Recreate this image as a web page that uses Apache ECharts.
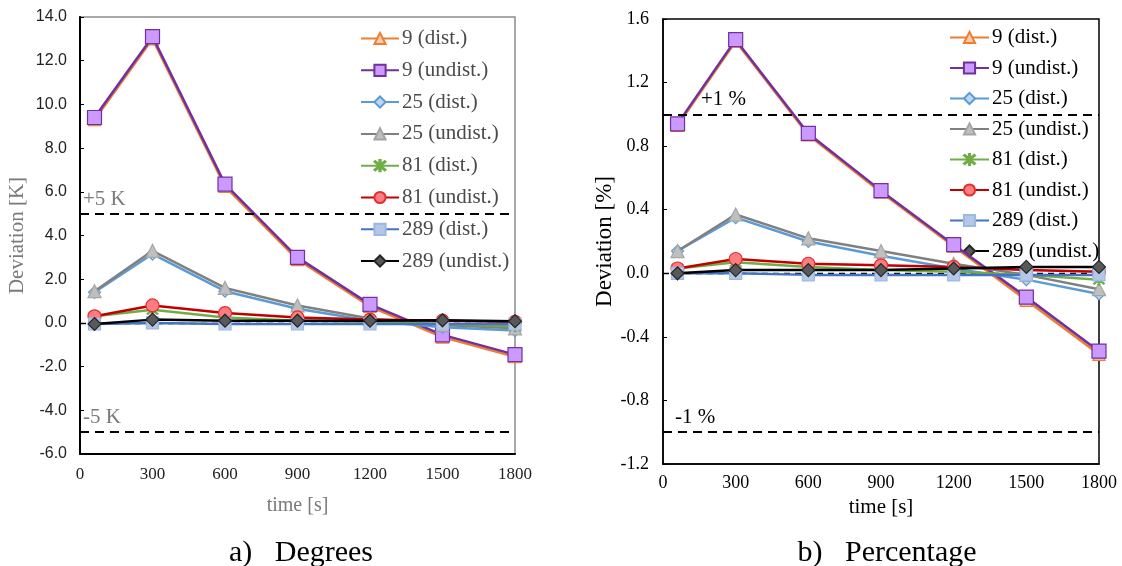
<!DOCTYPE html>
<html>
<head>
<meta charset="utf-8">
<script src="https://cdn.jsdelivr.net/npm/echarts@6/dist/echarts.min.js"></script>
<style>
  html, body { margin: 0; padding: 0; background: #fff; }
  #chart { width: 1122px; height: 566px; }
</style>
</head>
<body>
<div id="chart"></div>
<script>
// Sampling times [s]
const times = [60, 300, 600, 900, 1200, 1500, 1800];

// Series names (grid size, distorted / undistorted)
const seriesNames = ['9 (dist.)', '9 (undist.)', '25 (dist.)', '25 (undist.)',
                     '81 (dist.)', '81 (undist.)', '289 (dist.)', '289 (undist.)'];

// Deviation in Kelvin
const dev9DistK     = [9.3, 13.0, 6.25, 2.9, 0.75, -0.65, -1.55];
const dev9UndistK   = [9.4, 13.1, 6.35, 3.0, 0.85, -0.55, -1.45];
const dev25DistK    = [1.4, 3.15, 1.45, 0.65, 0.1, -0.2, -0.35];
const dev25UndistK  = [1.45, 3.3, 1.6, 0.8, 0.2, -0.1, -0.25];
const dev81DistK    = [0.3, 0.6, 0.25, 0.1, 0.05, -0.05, -0.15];
const dev81UndistK  = [0.3, 0.8, 0.45, 0.25, 0.15, 0.1, 0.05];
const dev289DistK   = [-0.05, 0.0, -0.05, -0.05, -0.05, -0.05, -0.05];
const dev289UndistK = [-0.05, 0.15, 0.1, 0.1, 0.1, 0.12, 0.08];

// Deviation in percent
const dev9DistP     = [0.93, 1.46, 0.87, 0.51, 0.17, -0.17, -0.51];
const dev9UndistP   = [0.94, 1.47, 0.88, 0.52, 0.18, -0.15, -0.49];
const dev25DistP    = [0.14, 0.35, 0.2, 0.11, 0.03, -0.04, -0.13];
const dev25UndistP  = [0.14, 0.37, 0.22, 0.14, 0.06, -0.01, -0.1];
const dev81DistP    = [0.03, 0.07, 0.04, 0.02, 0.01, -0.01, -0.04];
const dev81UndistP  = [0.03, 0.09, 0.06, 0.05, 0.04, 0.02, 0.01];
const dev289DistP   = [0.0, 0.0, -0.01, -0.01, -0.01, -0.01, -0.01];
const dev289UndistP = [0.0, 0.02, 0.02, 0.02, 0.03, 0.04, 0.04];

// Tolerance bands
const limitsK = [5, -5];
const limitLabelsK = ['+5 K', '-5 K'];
const limitsP = [1, -1];
const limitLabelsP = ['+1 %', '-1 %'];

// Panel captions and axis titles
const captions = ['a)   Degrees', 'b)   Percentage'];
const yTitles = ['Deviation [K]', 'Deviation [%]'];
const xTitle = 'time [s]';

const seriesK = [dev9DistK, dev9UndistK, dev25DistK, dev25UndistK, dev81DistK, dev81UndistK, dev289DistK, dev289UndistK];
const seriesP = [dev9DistP, dev9UndistP, dev25DistP, dev25UndistP, dev81DistP, dev81UndistP, dev289DistP, dev289UndistP];

const asterisk = 'path://M9,0 L11,0 L11,20 L9,20 Z M1.5,2.9 L2.9,1.5 L18.5,17.1 L17.1,18.5 Z M17.1,1.5 L18.5,2.9 L2.9,18.5 L1.5,17.1 Z';

// Line colour, marker shape, marker fill, marker border, marker size
const styles = [
  { line: '#ED7D31', symbol: 'triangle', fill: '#F8CBAD', border: '#ED7D31', size: 12 },
  { line: '#7030A0', symbol: 'rect',     fill: '#CC99FF', border: '#7030A0', size: 14 },
  { line: '#5B9BD5', symbol: 'diamond',  fill: '#BDD7EE', border: '#5B9BD5', size: 12 },
  { line: '#808080', symbol: 'triangle', fill: '#BFBFBF', border: '#A5A5A5', size: 13 },
  { line: '#70AD47', symbol: asterisk,   fill: '#8FCB6B', border: '#70AD47', size: 11 },
  { line: '#C00000', symbol: 'circle',   fill: '#FF7C80', border: '#E03030', size: 13 },
  { line: '#4472C4', symbol: 'rect',     fill: '#B4C7E7', border: '#9DB7E3', size: 12 },
  { line: '#000000', symbol: 'diamond',  fill: '#595959', border: '#262626', size: 13 }
];

const serifFont = 'Liberation Serif';

function makeSeries(dataSets, axisIndex) {
  return dataSets.map((vals, i) => ({
    name: seriesNames[i],
    type: 'line',
    xAxisIndex: axisIndex,
    yAxisIndex: axisIndex,
    data: times.map((t, j) => [t, vals[j]]),
    symbol: styles[i].symbol,
    symbolSize: styles[i].size,
    showAllSymbol: true,
    lineStyle: { color: styles[i].line, width: 2.5 },
    itemStyle: { color: styles[i].fill, borderColor: styles[i].border, borderWidth: 1.2 },
    emphasis: { disabled: true },
    animation: false,
    z: 3 + i
  }));
}

function limitSeries(axisIndex, limits, labels, color, dx) {
  return {
    type: 'line',
    xAxisIndex: axisIndex,
    yAxisIndex: axisIndex,
    data: [],
    silent: true,
    animation: false,
    z: 2,
    markLine: {
      symbol: ['none', 'none'],
      silent: true,
      animation: false,
      lineStyle: { color: '#000', type: [9, 6], width: 2 },
      data: limits.map((v, i) => ({
        yAxis: v,
        label: {
          show: true,
          formatter: labels[i],
          position: 'insideStartTop',
          distance: [dx[i], 4],
          color: color,
          fontFamily: serifFont,
          fontSize: 21
        }
      })).concat([{
        yAxis: 0,
        lineStyle: { color: '#000', type: [6, 5], width: 1.3 },
        label: { show: false }
      }])
    }
  };
}

const chart = echarts.init(document.getElementById('chart'), null, { renderer: 'canvas' });

const leftText = '#4a4a4a';
const plainNumber = v => String(v);

chart.setOption({
  backgroundColor: '#ffffff',
  animation: false,
  legend: [
    {
      data: seriesNames,
      orient: 'vertical',
      left: 355,
      top: 23,
      itemWidth: 38,
      itemHeight: 14,
      itemGap: 10.8,
      selectedMode: false,
      textStyle: { color: leftText, fontFamily: serifFont, fontSize: 21, padding: [0, 0, 0, -2] }
    },
    {
      data: seriesNames,
      orient: 'vertical',
      left: 944,
      top: 22,
      itemWidth: 39,
      itemHeight: 14,
      itemGap: 9.5,
      selectedMode: false,
      textStyle: { color: '#000', fontFamily: serifFont, fontSize: 21, padding: [0, 0, 0, -2] }
    }
  ],
  grid: [
    { left: 80, right: 1122 - 515, top: 17, bottom: 566 - 454, show: true, borderColor: '#8c8c8c', borderWidth: 1.5 },
    { left: 663, right: 1122 - 1099, top: 19, bottom: 566 - 464, show: true, borderColor: '#000', borderWidth: 1.5 }
  ],
  xAxis: [
    {
      gridIndex: 0, type: 'value', min: 0, max: 1800, interval: 300,
      name: xTitle, nameLocation: 'middle', nameGap: 42,
      nameTextStyle: { color: '#7a7a7a', fontFamily: serifFont, fontSize: 20 },
      axisLine: { onZero: false, lineStyle: { color: '#000', width: 2 } },
      axisTick: { show: false },
      splitLine: { show: false },
      axisLabel: { color: '#222', fontFamily: serifFont, fontSize: 17, margin: 12, formatter: plainNumber }
    },
    {
      gridIndex: 1, type: 'value', min: 0, max: 1800, interval: 300,
      name: xTitle, nameLocation: 'middle', nameGap: 33,
      nameTextStyle: { color: '#000', fontFamily: serifFont, fontSize: 21 },
      axisLine: { onZero: false, lineStyle: { color: '#000', width: 1.5 } },
      axisTick: { show: false },
      splitLine: { show: false },
      axisLabel: { color: '#000', fontFamily: serifFont, fontSize: 18, margin: 10, formatter: plainNumber }
    }
  ],
  yAxis: [
    {
      gridIndex: 0, type: 'value', min: -6, max: 14, interval: 2,
      name: yTitles[0], nameLocation: 'middle', nameGap: 52,
      nameTextStyle: { color: '#7a7a7a', fontFamily: serifFont, fontSize: 21 },
      axisLine: { onZero: false, lineStyle: { color: '#000', width: 2 } },
      axisTick: { show: true, inside: true, length: 4, lineStyle: { color: '#000' } },
      splitLine: { show: false },
      axisLabel: { color: '#222', fontFamily: 'Liberation Sans', fontSize: 16, margin: 13,
                   formatter: v => v.toFixed(1) }
    },
    {
      gridIndex: 1, type: 'value', min: -1.2, max: 1.6, interval: 0.4,
      name: yTitles[1], nameLocation: 'middle', nameGap: 46,
      nameTextStyle: { color: '#000', fontFamily: serifFont, fontSize: 23 },
      axisLine: { onZero: false, lineStyle: { color: '#000', width: 1.5 } },
      axisTick: { show: true, inside: true, length: 4, lineStyle: { color: '#000' } },
      splitLine: { show: false },
      axisLabel: { color: '#000', fontFamily: serifFont, fontSize: 18, margin: 14,
                   formatter: v => v.toFixed(1) }
    }
  ],
  graphic: [
    { type: 'text', x: 301, y: 553, style: { text: captions[0], fill: '#000', font: '30px "Liberation Serif"', textAlign: 'center', textVerticalAlign: 'middle' } },
    { type: 'text', x: 887, y: 553, style: { text: captions[1], fill: '#000', font: '30px "Liberation Serif"', textAlign: 'center', textVerticalAlign: 'middle' } }
  ],
  series: [
    limitSeries(0, limitsK, limitLabelsK, '#7a7a7a', [3, 3]),
    limitSeries(1, limitsP, limitLabelsP, '#000', [38, 12])
  ].concat(makeSeries(seriesK, 0), makeSeries(seriesP, 1))
});
</script>
</body>
</html>
